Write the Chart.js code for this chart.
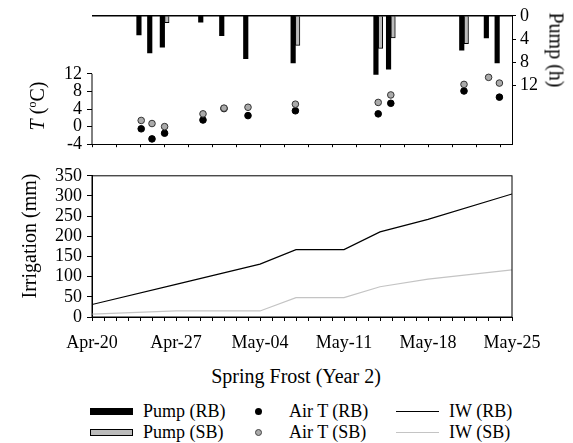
<!DOCTYPE html>
<html>
<head>
<meta charset="utf-8">
<script src="https://cdn.jsdelivr.net/npm/chart.js@4/dist/chart.umd.min.js"></script>
<style>
  body { margin: 0; background: #fff; }
  #wrap { position: relative; width: 573px; height: 443px; font-family: "Liberation Serif", "Times New Roman", serif; color: #000; }
  .box { position: absolute; left: 0; width: 573px; }
  .vt { position: absolute; white-space: nowrap; font-size: 20px; transform: translate(-50%, -50%) rotate(-90deg); }
  .vt.r { transform: translate(-50%, -50%) rotate(90deg); }
  .ht { position: absolute; white-space: nowrap; font-size: 20px; transform: translate(-50%, -50%); }
  .lg { position: absolute; font-size: 18px; white-space: nowrap; transform: translateY(-50%); }
  .sym { position: absolute; box-sizing: border-box; }
</style>
</head>
<body>
<div id="wrap">
  <div class="box" style="top:0;height:160px"><canvas id="topChart"></canvas></div>
  <div class="box" style="top:160px;height:200px"><canvas id="botChart"></canvas></div>

  <div class="vt" style="left:37px;top:106px"><i>T</i> (<sup style="font-size:12px">o</sup>C)</div>
  <div class="vt r" style="left:556px;top:50px">Pump (h)</div>
  <div class="vt" style="left:29px;top:236px">Irrigation (mm)</div>
  <div class="ht" style="left:296px;top:376px">Spring Frost (Year 2)</div>

  <!-- legend -->
  <div class="sym" style="left:90px;top:408px;width:43px;height:7px;background:#000"></div>
  <div class="sym" style="left:90px;top:429px;width:43px;height:7px;background:#bbb;border:1px solid #000"></div>
  <div class="lg" style="left:143px;top:411px">Pump (RB)</div>
  <div class="lg" style="left:143px;top:432px">Pump (SB)</div>
  <div class="sym" style="left:255px;top:408px;width:7px;height:7px;border-radius:50%;background:#000"></div>
  <div class="sym" style="left:255px;top:429px;width:7px;height:7px;border-radius:50%;background:#aaa;border:1px solid #444"></div>
  <div class="lg" style="left:289px;top:411px">Air T (RB)</div>
  <div class="lg" style="left:289px;top:432px">Air T (SB)</div>
  <div class="sym" style="left:396px;top:411px;width:43px;height:1px;background:#000"></div>
  <div class="sym" style="left:396px;top:432px;width:43px;height:1px;background:#c4c4c4"></div>
  <div class="lg" style="left:449px;top:411px">IW (RB)</div>
  <div class="lg" style="left:449px;top:432px">IW (SB)</div>
</div>

<script>
// x positions are days after Apr-20
const tickDays = [0, 7, 14, 21, 28, 35];
const tickLabels = ["Apr-20", "Apr-27", "May-04", "May-11", "May-18", "May-25"];

// frost nights
const frostDays = [4.1, 5.0, 6.05, 9.25, 11.0, 13.0, 16.95, 23.85, 24.9, 31.0, 33.05, 33.95];
const pumpRB = [3.3, 6.4, 5.4, 1.1, 3.4, 7.4, 8.1, 10.1, 9.2, 5.9, 3.8, 8.1];
const pumpSB = [null, null, 1.2, null, null, null, 5.1, 5.6, 3.8, 4.8, null, null];
const airRB = [-0.5, -2.8, -1.5, 1.5, 4.1, 2.5, 3.6, 2.9, 5.3, 8.1, null, 6.7];
const airSB = [1.4, 0.7, 0.0, 2.9, 4.2, 4.4, 5.1, 5.5, 7.2, 9.6, 11.2, 9.9];

const tTicks = [-4, 0, 4, 8, 12];
const pumpTicks = [0, 4, 8, 12];
const irrTicks = [0, 50, 100, 150, 200, 250, 300, 350];

// cumulative irrigation water
const irrDays = [0, 7, 14, 17, 21, 24, 28, 35];
const iwRB = [31, 81, 131, 167, 167, 211, 242, 305];
const iwSB = [7, 15, 15, 48, 48, 75, 94, 117];

Chart.defaults.font.family = "'Liberation Serif', 'Times New Roman', serif";
Chart.defaults.font.size = 18;
Chart.defaults.color = "#000";

const pts = (xs, ys) => xs.map((x, i) => ({ x: x, y: ys[i] })).filter(p => p.y !== null);

const axisLook = {
  grid: { drawOnChartArea: false, drawTicks: true, tickLength: 5, color: "#000" },
  border: { display: true, color: "#000", width: 1 },
};

// top panel frame: heavy top line, left axis only over the labelled range
const topFrame = {
  id: "topFrame",
  afterDraw(chart) {
    const { ctx, chartArea: a } = chart;
    const yT = chart.scales.yT;
    ctx.save();
    ctx.strokeStyle = "#000";
    ctx.lineWidth = 1.6;
    ctx.beginPath();
    ctx.moveTo(a.left, a.top);
    ctx.lineTo(a.right, a.top);
    ctx.stroke();
    ctx.lineWidth = 1;
    ctx.beginPath();
    ctx.moveTo(a.left, yT.getPixelForValue(12));
    ctx.lineTo(a.left, a.bottom);
    ctx.stroke();
    ctx.restore();
  },
};

const boxFrame = {
  id: "boxFrame",
  afterDraw(chart) {
    const { ctx, chartArea: a } = chart;
    ctx.save();
    ctx.strokeStyle = "#000";
    ctx.lineWidth = 1;
    ctx.strokeRect(a.left, a.top, a.right - a.left, a.bottom - a.top);
    ctx.restore();
  },
};

new Chart(document.getElementById("topChart"), {
  type: "scatter",
  data: {
    datasets: [
      {
        type: "bar", label: "Pump (RB)", yAxisID: "yP", order: 3,
        data: pts(frostDays, pumpRB),
        backgroundColor: "#000", borderWidth: 0, barThickness: 4.5,
      },
      {
        type: "bar", label: "Pump (SB)", yAxisID: "yP", order: 4,
        data: pts(frostDays, pumpSB),
        backgroundColor: "#bbb", borderColor: "#000", borderWidth: 1, barThickness: 4.5,
      },
      {
        type: "scatter", label: "Air T (RB)", yAxisID: "yT", order: 2,
        data: pts(frostDays, airRB),
        pointRadius: 3.3, pointBackgroundColor: "#000", pointBorderColor: "#000", pointBorderWidth: 1,
      },
      {
        type: "scatter", label: "Air T (SB)", yAxisID: "yT", order: 1,
        data: pts(frostDays, airSB),
        pointRadius: 3.3, pointBackgroundColor: "#aaa", pointBorderColor: "#333", pointBorderWidth: 1,
      },
    ],
  },
  options: {
    responsive: true,
    maintainAspectRatio: false,
    animation: false,
    layout: { padding: { top: 15, left: 0, right: 0, bottom: 0 } },
    plugins: { legend: { display: false }, tooltip: { enabled: false } },
    scales: {
      x: {
        type: "linear", min: 0, max: 35, offset: false,
        grid: { drawOnChartArea: false, drawTicks: true, tickLength: 3, color: "#000", offset: false },
        border: { display: true, color: "#000", width: 1 },
        ticks: { stepSize: 2, includeBounds: false, callback: () => "", padding: 0 },
        afterFit(s) { s.height = 10; },
      },
      yT: {
        position: "left", min: -4, max: 25.2,
        ...axisLook,
        border: { display: false },
        ticks: { padding: 5, autoSkip: false },
        afterBuildTicks(s) { s.ticks = tTicks.map(v => ({ value: v })); },
        afterFit(s) { s.width = 92; },
      },
      yP: {
        position: "right", min: 0, max: 22.1, reverse: true,
        ...axisLook,
        grid: { drawOnChartArea: false, drawTicks: true, tickLength: 4, color: "#000" },
        ticks: { padding: 4, autoSkip: false },
        afterBuildTicks(s) { s.ticks = pumpTicks.map(v => ({ value: v })); },
        afterFit(s) { s.width = 61; },
      },
    },
  },
  plugins: [topFrame],
});

new Chart(document.getElementById("botChart"), {
  type: "line",
  data: {
    datasets: [
      {
        label: "IW (RB)", data: pts(irrDays, iwRB),
        borderColor: "#000", borderWidth: 1.2, pointRadius: 0, tension: 0,
      },
      {
        label: "IW (SB)", data: pts(irrDays, iwSB),
        borderColor: "#c4c4c4", borderWidth: 1.2, pointRadius: 0, tension: 0,
      },
    ],
  },
  options: {
    responsive: true,
    maintainAspectRatio: false,
    animation: false,
    layout: { padding: { top: 11, left: 0, right: 61, bottom: 0 } },
    plugins: { legend: { display: false }, tooltip: { enabled: false } },
    scales: {
      x: {
        type: "linear", min: 0, max: 35,
        grid: { drawOnChartArea: false, drawTicks: true, tickLength: 4, color: "#000" },
        border: { display: true, color: "#000", width: 1 },
        ticks: {
          stepSize: 1, autoSkip: false, maxRotation: 0, padding: 11,
          callback: v => { const i = tickDays.indexOf(v); return i >= 0 ? tickLabels[i] : ""; },
        },
        afterFit(s) { s.height = 43; },
      },
      y: {
        min: 0, max: 350,
        ...axisLook,
        ticks: { padding: 5, autoSkip: false },
        afterBuildTicks(s) { s.ticks = irrTicks.map(v => ({ value: v })); },
        afterFit(s) { s.width = 92; },
      },
    },
  },
  plugins: [boxFrame],
});
</script>
</body>
</html>
